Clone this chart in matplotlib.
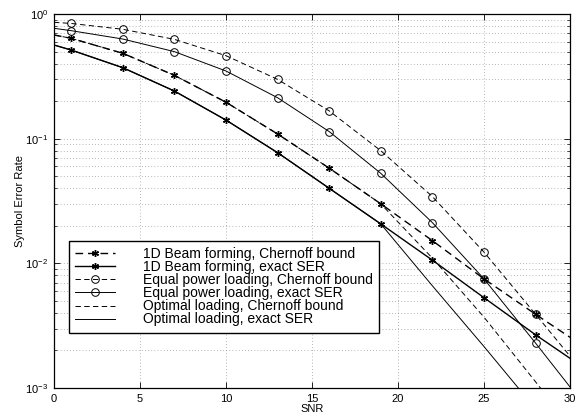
import numpy as np
import matplotlib
matplotlib.use("Agg")
import matplotlib.pyplot as plt
from matplotlib.ticker import LogLocator, NullFormatter

# 统一绘图样式
plt.rcParams.update(
    {
        "font.family": ["Liberation Sans", "DejaVu Sans"],
        "mathtext.fontset": "custom",
        "mathtext.rm": "Liberation Sans",
        "axes.linewidth": 0.9,
        "xtick.labelsize": 8,
        "ytick.labelsize": 8,
        "axes.labelsize": 8,
    }
)

# 数据
snr = [0, 1, 4, 7, 10, 13, 16, 19, 22, 25, 28, 30]
beam_chernoff = [0.679, 0.638, 0.484, 0.322, 0.196, 0.109, 0.058, 0.030, 0.0152, 0.0075, 0.0039, 0.00255]
beam_exact = [0.564, 0.514, 0.371, 0.241, 0.141, 0.0772, 0.040, 0.0207, 0.0106, 0.0053, 0.00267, 0.00173]
equal_chernoff = [0.858, 0.84, 0.754, 0.626, 0.463, 0.299, 0.167, 0.080, 0.0343, 0.0123, 0.0039, 0.0018]
equal_exact = [0.768, 0.735, 0.63, 0.499, 0.349, 0.213, 0.114, 0.0527, 0.0212, 0.0075, 0.00229, 0.00102]
optimal_chernoff = [0.679, 0.638, 0.484, 0.322, 0.196, 0.109, 0.058, 0.030, 0.0110, 0.0037, 0.00112, 0.0005]
optimal_exact = [0.564, 0.514, 0.371, 0.241, 0.141, 0.0772, 0.040, 0.0207, 0.0066, 0.00215, 0.00068, 0.0003]

labels = [
    "1D Beam forming, Chernoff bound",
    "1D Beam forming, exact SER",
    "Equal power loading, Chernoff bound",
    "Equal power loading, exact SER",
    "Optimal loading, Chernoff bound",
    "Optimal loading, exact SER",
]

fig = plt.figure(figsize=(5.83, 4.18), dpi=100)
ax = fig.add_axes([0.0926, 0.0718, 0.8851, 0.8947])

dash = (0, (5.5, 3.5))
marks = list(range(1, 11))
star = (6, 2, 0)  # MATLAB 风格星号

ax.plot(snr, beam_chernoff, color="k", ls=dash, lw=1.0, marker=star, ms=5,
        mew=1.0, markevery=marks, label=labels[0])
ax.plot(snr, beam_exact, color="k", ls="-", lw=1.0, marker=star, ms=5,
        mew=1.0, markevery=marks, label=labels[1])
ax.plot(snr, equal_chernoff, color="k", ls=dash, lw=0.7, marker="o", ms=5.5,
        mfc="none", mew=0.7, markevery=marks, label=labels[2])
ax.plot(snr, equal_exact, color="k", ls="-", lw=0.7, marker="o", ms=5.5,
        mfc="none", mew=0.7, markevery=marks, label=labels[3])
ax.plot(snr, optimal_chernoff, color="k", ls=dash, lw=0.7, label=labels[4])
ax.plot(snr, optimal_exact, color="k", ls="-", lw=0.7, label=labels[5])

ax.set_yscale("log")
ax.set_xlim(0, 30)
ax.set_ylim(1e-3, 1)
ax.set_xticks(np.arange(0, 31, 5))
ax.yaxis.set_minor_locator(LogLocator(base=10, subs=np.arange(2, 10)))
ax.yaxis.set_minor_formatter(NullFormatter())

# MATLAB 风格网格和刻度
ax.grid(True, which="major", color="0.45", ls=(0, (1, 3.5)), lw=0.5)
ax.grid(True, which="minor", axis="y", color="0.45", ls=(0, (1, 3.5)), lw=0.5)
ax.tick_params(which="both", direction="in", top=True, right=True, colors="k")
ax.tick_params(which="major", length=4, width=0.6, pad=4)
ax.tick_params(which="minor", length=2.5, width=0.5)

ax.set_xlabel("SNR", labelpad=0)
ax.set_ylabel("Symbol Error Rate", labelpad=0)

leg = ax.legend(
    loc="upper left",
    bbox_to_anchor=(0.029, 0.393),
    borderaxespad=0,
    fontsize=10,
    numpoints=1,
    fancybox=False,
    framealpha=1,
    edgecolor="k",
    handlelength=2.9,
    handletextpad=2.0,
    labelspacing=-0.07,
    borderpad=0.45,
)
leg.get_frame().set_linewidth(1.0)

fig.savefig("out.png", dpi=100)
